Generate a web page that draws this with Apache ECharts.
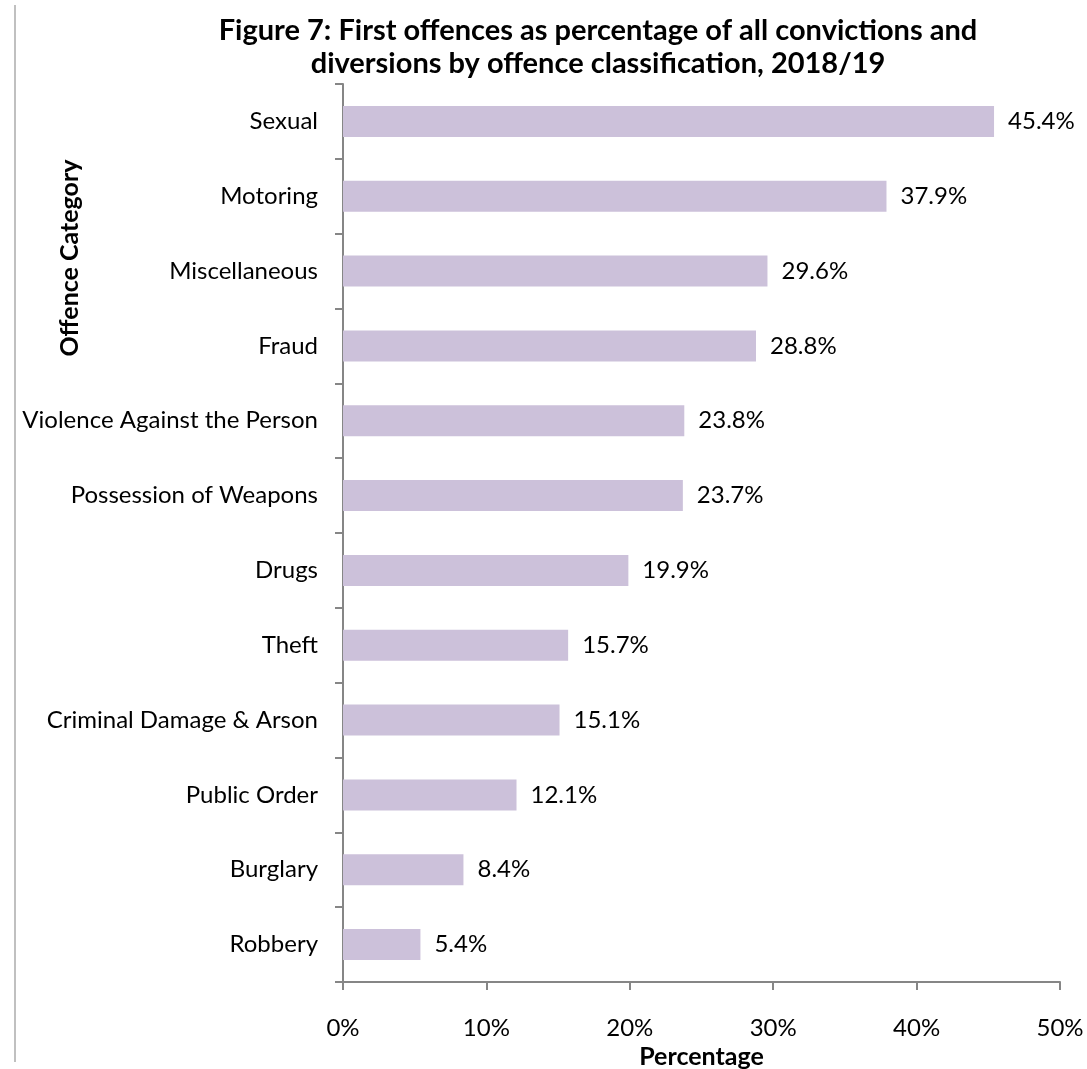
<!DOCTYPE html>
<html><head><meta charset="utf-8">
<script src="https://cdn.jsdelivr.net/npm/echarts@6/dist/echarts.min.js"></script>
<style>html,body{margin:0;padding:0;background:#fff}#c{width:1087px;height:1069px}
#edge{position:absolute;left:14px;top:5px;width:2px;height:1057px;background:#c0c0c0}</style>
</head><body><div id="c"></div><div id="edge"></div>
<script>
const categories = ["Robbery","Burglary","Public Order","Criminal Damage & Arson","Theft","Drugs","Possession of Weapons","Violence Against the Person","Fraud","Miscellaneous","Motoring","Sexual"];
const values = [5.4, 8.4, 12.1, 15.1, 15.7, 19.9, 23.7, 23.8, 28.8, 29.6, 37.9, 45.4];
const xTicks = [0, 10, 20, 30, 40, 50];
const FONT = "Lato";
const chart = echarts.init(document.getElementById('c'));
chart.setOption({
  animation: false,
  textStyle: {fontFamily: FONT},
  title: {
    text: "Figure 7: First offences as percentage of all convictions and\ndiversions by offence classification, 2018/19",
    left: 593, top: 9, textAlign: 'center',
    textStyle: {fontFamily: FONT, fontWeight: 'bold', fontSize: 29, color: '#000', lineHeight: 33}
  },
  graphic: [{
    type: 'text', x: 70, y: 258, rotation: Math.PI / 2,
    style: {text: 'Offence Category', fontFamily: FONT, fontWeight: 'bold', fontSize: 25, fill: '#000', align: 'center', verticalAlign: 'middle'}
  }],
  grid: {left: 343, right: 27, top: 84, bottom: 87, containLabel: false, outerBoundsMode: 'none'},
  xAxis: {
    type: 'value', min: xTicks[0], max: xTicks[xTicks.length-1], interval: 10,
    name: 'Percentage', nameLocation: 'middle', nameGap: 62,
    nameTextStyle: {fontFamily: FONT, fontWeight: 'bold', fontSize: 25, color: '#000'},
    axisLine: {show: true, lineStyle: {color: '#868686', width: 2}},
    axisTick: {show: true, length: 8, lineStyle: {color: '#868686', width: 2}},
    axisLabel: {formatter: '{value}%', fontSize: 24, color: '#000', margin: 34, fontFamily: FONT},
    splitLine: {show: false}
  },
  yAxis: {
    type: 'category', data: categories,
    axisLine: {show: true, lineStyle: {color: '#868686', width: 2}},
    axisTick: {show: true, length: 8, lineStyle: {color: '#868686', width: 2}},
    axisLabel: {fontSize: 24, color: '#000', margin: 25, fontFamily: FONT}
  },
  series: [{
    type: 'bar', data: values, barWidth: 31,
    itemStyle: {color: '#CCC1DA'},
    label: {show: true, position: 'right', distance: 14, formatter: p => p.value.toFixed(1) + '%', fontSize: 24, color: '#000', fontFamily: FONT}
  }]
});
</script></body></html>
